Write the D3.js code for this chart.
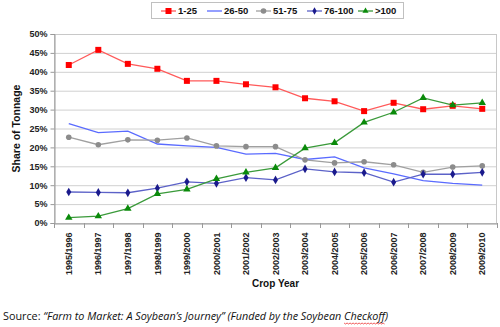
<!DOCTYPE html>
<html><head><meta charset="utf-8">
<script src="https://cdn.jsdelivr.net/npm/d3@7"></script>
<style>body{margin:0;background:#fff}svg{display:block}</style>
</head><body>
<svg id="c" width="500" height="327"></svg>
<script>
const categories = ["1995/1996","1996/1997","1997/1998","1998/1999","1999/2000","2000/2001","2001/2002","2002/2003","2003/2004","2004/2005","2005/2006","2006/2007","2007/2008","2008/2009","2009/2010"];
const s1_25   = [41.8,45.8,42.1,40.8,37.6,37.6,36.7,35.9,33.0,32.2,29.6,31.8,30.1,31.0,30.2];
const s26_50  = [26.3,23.9,24.3,20.9,20.4,20.0,18.2,18.4,16.8,17.5,14.6,13.0,11.2,10.5,10.0];
const s51_75  = [22.7,20.7,22.0,21.9,22.5,20.4,20.2,20.2,16.7,15.9,16.2,15.4,13.4,14.8,15.1];
const s76_100 = [8.2,8.1,8.0,9.2,10.9,10.5,12.0,11.4,14.3,13.5,13.3,10.8,12.9,12.9,13.4];
const s100    = [1.4,1.8,3.8,7.7,8.9,11.7,13.4,14.6,19.8,21.2,26.6,29.3,33.1,31.2,31.8];
const yTicks  = [0,5,10,15,20,25,30,35,40,45,50];
const seriesNames = ["1-25","26-50","51-75","76-100",">100"];

const series = [
  {name:seriesNames[0], values:s1_25,   line:"#ff5a5a", mark:"#ff0000", shape:"square"},
  {name:seriesNames[1], values:s26_50,  line:"#5a6bff", mark:null,      shape:null},
  {name:seriesNames[2], values:s51_75,  line:"#a0a0a0", mark:"#8c8c8c", shape:"circle"},
  {name:seriesNames[3], values:s76_100, line:"#5c62c8", mark:"#1a1a8c", shape:"diamond"},
  {name:seriesNames[4], values:s100,    line:"#3a9a3a", mark:"#0a8a0a", shape:"triangle"}
];

const svg = d3.select("#c");
const L=54, R=497, T=34, B=223;
const x = d3.scaleBand().domain(categories).range([L,R]);
const y = d3.scaleLinear().domain([0,50]).range([B,T]);
const font = "Arial, 'Liberation Sans', sans-serif";

svg.append("g").selectAll("line").data(yTicks).join("line")
  .attr("x1",L).attr("x2",R).attr("y1",d=>y(d)+0.5).attr("y2",d=>y(d)+0.5)
  .attr("stroke","#d0d0d0").attr("stroke-width",1);
svg.append("rect").attr("x",L+0.5).attr("y",T+0.5).attr("width",R-L-1).attr("height",B-T)
  .attr("fill","none").attr("stroke","#c8c8c8");

const yAxis = svg.append("g").attr("transform",`translate(${L+0.5},0)`)
  .call(d3.axisLeft(y).tickValues(yTicks).tickFormat(d=>d+"%").tickSize(4).tickPadding(3));
yAxis.select(".domain").attr("stroke","#999");
yAxis.selectAll(".tick line").attr("stroke","#999");
yAxis.selectAll("text").attr("font-family",font).attr("font-size",9).attr("font-weight","bold").attr("fill","#222");

const xAxis = svg.append("g").attr("transform",`translate(0,${B+0.5})`)
  .call(d3.axisBottom(x).tickSize(0).tickPadding(0));
xAxis.select(".domain").attr("stroke","#999");
xAxis.selectAll(".tick text")
  .attr("font-family",font).attr("font-size",9).attr("font-weight","bold").attr("fill","#222")
  .attr("transform","rotate(-90)").attr("text-anchor","end").attr("x",-9).attr("y",0).attr("dy","0.35em");
const bounds = categories.map(c=>x(c)).concat([R]);
svg.append("g").selectAll("line").data(bounds).join("line")
  .attr("x1",d=>Math.round(d)+0.5).attr("x2",d=>Math.round(d)+0.5).attr("y1",B).attr("y2",B+5)
  .attr("stroke","#999");

svg.append("text").attr("transform",`translate(20,${(T+B)/2}) rotate(-90)`)
  .attr("text-anchor","middle").attr("font-family",font).attr("font-size",10.5).attr("font-weight","bold")
  .attr("fill","#111").text("Share of Tonnage");
svg.append("text").attr("x",(L+R)/2).attr("y",287).attr("text-anchor","middle")
  .attr("font-family",font).attr("font-size",10).attr("font-weight","bold").attr("fill","#111").text("Crop Year");

const cx = d=>x(d)+x.bandwidth()/2;
function marker(g, shape, color, px, py, s){
  if(shape==="square") g.append("rect").attr("x",px-3).attr("y",py-3).attr("width",6).attr("height",6).attr("fill",color);
  else if(shape==="circle") g.append("circle").attr("cx",px).attr("cy",py).attr("r",2.8).attr("fill",color);
  else if(shape==="diamond") g.append("path").attr("d",d3.symbol(d3.symbolDiamond,s||22)()).attr("transform",`translate(${px},${py})`).attr("fill",color);
  else if(shape==="triangle") g.append("path").attr("d",d3.symbol(d3.symbolTriangle,s||24)()).attr("transform",`translate(${px},${py})`).attr("fill",color);
}

const line = d3.line().x((d,i)=>cx(categories[i])).y(d=>y(d));
const order = [1,2,3,0,4];
order.forEach(k=>{
  const s = series[k];
  const g = svg.append("g");
  g.append("path").attr("d",line(s.values)).attr("fill","none").attr("stroke",s.line).attr("stroke-width",1.3);
  if(s.shape) s.values.forEach((v,i)=>marker(g,s.shape,s.mark,cx(categories[i]),y(v)));
});

const lg = svg.append("g");
lg.append("rect").attr("x",151.5).attr("y",2.5).attr("width",252).attr("height",16)
  .attr("fill","#fff").attr("stroke","#c0c0c0");
const lx = [161,207,256,307,358];
series.forEach((s,i)=>{
  const x0 = lx[i], yy = 11;
  lg.append("line").attr("x1",x0).attr("x2",x0+15).attr("y1",yy).attr("y2",yy).attr("stroke",s.line).attr("stroke-width",1.3);
  if(s.shape) marker(lg,s.shape,s.mark,x0+7.5,yy,16);
  lg.append("text").attr("x",x0+17).attr("y",yy).attr("dy","0.35em")
    .attr("font-family",font).attr("font-size",9.5).attr("font-weight","bold").attr("fill","#111").text(s.name);
});

const src = svg.append("text").attr("x",3).attr("y",320).attr("font-family","'Open Sans', 'Liberation Sans', sans-serif").attr("font-size",10.8).attr("fill","#111");
src.append("tspan").text("Source: ");
src.append("tspan").attr("font-style","italic").text("\u201cFarm to Market: A Soybean\u2019s Journey\u201d (Funded by the Soybean ");
src.append("tspan").attr("font-style","italic").attr("id","ck").text("Checkoff");
src.append("tspan").attr("font-style","italic").text(")");
const node = document.getElementById("ck");
const ext = (()=>{try{const n=node.getNumberOfChars();const a=node.getExtentOfChar(0),b=node.getExtentOfChar(n-1);return [a.x,b.x+b.width];}catch(e){return [330,380];}})();
let pts=[]; for(let xx=ext[0], k=0; xx<=ext[1]; xx+=1.5, k++) pts.push([xx, 323 + (k%2?1:0)]);
svg.append("path").attr("d",d3.line()(pts)).attr("fill","none").attr("stroke","#e33").attr("stroke-width",0.8);
</script>
</body></html>
